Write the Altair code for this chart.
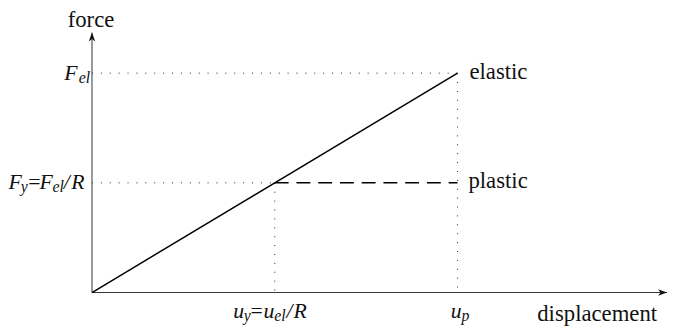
import altair as alt
import pandas as pd

# ---- data ----
u_y = 1.0        # yield displacement u_y = u_el / R
u_p = 2.0        # peak displacement u_p
F_y = 1.0        # yield force F_y = F_el / R
F_el = 2.0       # elastic force F_el
x_end = 3.146    # end of displacement axis (arrow tip)
y_end = 2.37     # end of force axis (arrow tip)

axis_titles = ["force", "displacement"]
curve_names = ["elastic", "plastic"]

# ---- tables built from the values ----
axes_df = pd.DataFrame({"x": [0.0, 0.0], "y": [0.0, 0.0],
                        "x2": [x_end, 0.0], "y2": [0.0, y_end]})
elastic_df = pd.DataFrame({"x": [0.0], "y": [0.0], "x2": [u_p], "y2": [F_el]})
plastic_df = pd.DataFrame({"x": [u_y], "y": [F_y], "x2": [u_p], "y2": [F_y]})
guides_df = pd.DataFrame({
    "x":  [0.0, u_p, 0.0, u_y],
    "y":  [F_el, F_el, F_y, F_y],
    "x2": [u_p, u_p, u_y, u_y],
    "y2": [F_el, 0.0, F_y, 0.0],
})

def pt(x, y):
    return pd.DataFrame({"x": [x], "y": [y]})

# ---- layout / style ----
W, H = 668, 323
xs = alt.Scale(domain=[-0.4595, 3.1514], nice=False, zero=False)
ys = alt.Scale(domain=[-0.3333, 2.5766], nice=False, zero=False)
SERIF = "Liberation Serif"
INK = "#111111"
ROMAN, MAIN, SUB = 23, 22, 16

X = alt.X("x:Q", scale=xs, axis=None)
Y = alt.Y("y:Q", scale=ys, axis=None)


def seg(df, **kw):
    return alt.Chart(df).mark_rule(**kw).encode(
        x=X, y=Y, x2=alt.X2("x2"), y2=alt.Y2("y2"))


def txt(df, text, dx, dy, size, italic=False, align="left"):
    return alt.Chart(df).mark_text(
        dx=dx, dy=dy, fontSize=size, font=SERIF,
        fontStyle="italic" if italic else "normal", align=align,
        baseline="alphabetic", color=INK).encode(
        x=X, y=Y, text=alt.value(text))


layers = []
layers.append(seg(axes_df, color="#333333", strokeWidth=1))
layers.append(seg(guides_df, color="#222222", strokeWidth=1, strokeDash=[1, 8]))
layers.append(seg(elastic_df, color="#000000", strokeWidth=1.5))
layers.append(seg(plastic_df, color="#000000", strokeWidth=1.5, strokeDash=[14, 8]))

# arrow heads
up_arrow = "M0,0L0.4,1.1L0,0.8L-0.4,1.1Z"
right_arrow = "M0,0L-1.1,-0.4L-0.8,0L-1.1,0.4Z"
layers.append(alt.Chart(pt(0.0, y_end)).mark_point(
    shape=up_arrow, size=270, filled=True, color="#111111", opacity=1).encode(x=X, y=Y))
layers.append(alt.Chart(pt(x_end, 0.0)).mark_point(
    shape=right_arrow, size=270, filled=True, color="#111111", opacity=1).encode(x=X, y=Y))

# axis titles and curve names
layers.append(txt(pt(0.0, y_end), axis_titles[0], -1, -6, ROMAN, align="center"))
layers.append(txt(pt(x_end, 0.0), axis_titles[1], -10, 29, ROMAN, align="right"))
layers.append(txt(pt(u_p, F_el), curve_names[0], 12, 6, ROMAN))
layers.append(txt(pt(u_p, F_y), curve_names[1], 11, 5, ROMAN))

# F_el label
a = pt(0.0, F_el)
layers += [txt(a, "F", -28, 7, MAIN, True), txt(a, "el", -13.5, 10, SUB, True)]

# F_y = F_el / R label
a = pt(0.0, F_y)
layers += [
    txt(a, "F", -84.5, 6, MAIN, True), txt(a, "y", -72, 9, SUB, True),
    txt(a, "=", -64.5, 6, MAIN), txt(a, "F", -53, 6, MAIN, True),
    txt(a, "el", -40, 9, SUB, True), txt(a, "/", -28.5, 6, MAIN, True),
    txt(a, "R", -21, 6, MAIN, True),
]

# u_y = u_el / R label
a = pt(u_y, 0.0)
layers += [
    txt(a, "u", -42, 26, MAIN, True), txt(a, "y", -31.5, 29, SUB, True),
    txt(a, "=", -24.5, 26, MAIN), txt(a, "u", -11.5, 26, MAIN, True),
    txt(a, "el", -0.5, 29, SUB, True), txt(a, "/", 12, 26, MAIN, True),
    txt(a, "R", 19, 26, MAIN, True),
]

# u_p label
a = pt(u_p, 0.0)
layers += [txt(a, "u", -7, 26, MAIN, True), txt(a, "p", 4, 29, SUB, True)]

chart = alt.layer(*layers).properties(
    width=W, height=H, padding=0,
    autosize=alt.AutoSizeParams(type="none"),
    background="white",
).configure_view(stroke=None)

chart.save("out.html", embed_options={"renderer": "svg", "actions": False})
